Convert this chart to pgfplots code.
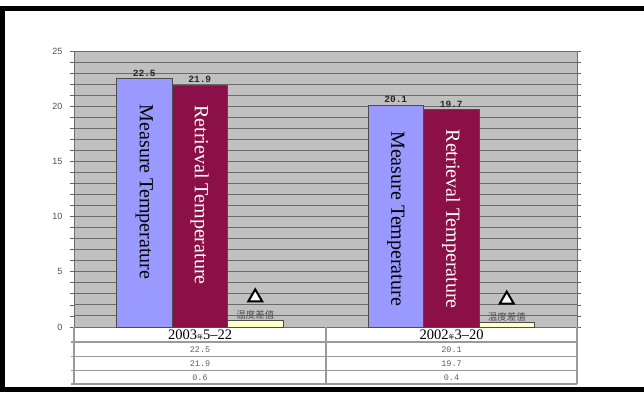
\documentclass[border=0pt]{standalone}
\usepackage{pgfplots}
\pgfplotsset{compat=1.18}
\usepackage{fontspec}
\setmainfont{Liberation Serif}
\newfontfamily\lsans{Liberation Sans}
\newfontfamily\lmono{Liberation Mono}
\newfontfamily\cjk{Noto Sans CJK SC}
\definecolor{measblue}{HTML}{9999FF}
\definecolor{retmaroon}{HTML}{8C1048}
\definecolor{diffyellow}{HTML}{FFFFC8}
\definecolor{plotbg}{HTML}{C0C0C0}
\definecolor{gridc}{HTML}{6A6A6A}
\definecolor{tablec}{HTML}{9A9A9A}
\definecolor{ticklab}{HTML}{505050}
\definecolor{tabtext}{HTML}{606060}
\newcommand{\tri}{\tikz[baseline=0pt]\draw[black, fill=white, line width=2pt, line join=miter] (0pt,0pt) -- (14pt,0pt) -- (7pt,12pt) -- cycle;}
\begin{document}
\begin{tikzpicture}[x=1pt,y=1pt]
\useasboundingbox (0,0) rectangle (644,392);
% frame
\fill[black] (0,381) rectangle (644,386);
\fill[black] (0,0) rectangle (5,386);
\fill[black] (0,0) rectangle (644,5);
\begin{axis}[
  at={(74pt,65pt)}, anchor=south west,
  scale only axis, width=503pt, height=276pt,
  xmin=-0.5, xmax=1.5, ymin=0, ymax=25,
  clip=false,
  ybar, bar width=55.5pt,
  xtick=\empty,
  ytick={0,5,...,25},
  minor ytick={0,1,...,25},
  ymajorgrids, yminorgrids,
  major grid style={draw=gridc, line width=1pt},
  minor grid style={draw=gridc, line width=1pt},
  tick align=outside,
  major tick length=4pt, minor tick length=4pt,
  tick style={draw=gray!80!black, line width=0.8pt},
  minor tick style={draw=gray!80!black, line width=0.8pt},
  axis line style={draw=gray!85!black},
  axis background/.style={fill=plotbg},
  /pgf/number format/assume math mode=true,
  yticklabel style={font=\lsans\fontsize{9}{9}\selectfont, text=ticklab, xshift=-4pt},
]
% Measure Temperature bars with values
\addplot[bar shift=-55.5pt, fill=measblue, draw=black!70, line width=0.6pt,
  nodes near coords,
  every node near coord/.append style={font=\lmono\bfseries\fontsize{9.5}{9.5}\selectfont, text=black!85, anchor=south, inner sep=2pt}]
  coordinates {(0,22.5) (1,20.1)};
% Retrieval Temperature bars with values
\addplot[bar shift=0pt, fill=retmaroon, draw=black!70, line width=0.6pt,
  nodes near coords,
  every node near coord/.append style={font=\lmono\bfseries\fontsize{9.5}{9.5}\selectfont, text=black!85, anchor=south, inner sep=2pt}]
  coordinates {(0,21.9) (1,19.7)};
% difference bars
\addplot[bar shift=55.5pt, fill=diffyellow, draw=black!70, line width=0.6pt,
  nodes near coords={\shortstack{\tri\\[5pt]{\cjk\fontsize{9.5}{10}\selectfont 温度差值}}},
  every node near coord/.append style={text=ticklab, inner sep=1pt, anchor=south}]
  coordinates {(0,0.6) (1,0.4)};
% in-bar texts
\addplot[bar shift=-55.5pt, draw=none, fill=none,
  nodes near coords={Measure Temperature},
  every node near coord/.append style={font=\fontsize{20}{20}\selectfont, text=black, inner sep=0pt, anchor=west, yshift=-26pt, rotate=-90}]
  coordinates {(0,22.5) (1,20.1)};
\addplot[bar shift=0pt, draw=none, fill=none,
  nodes near coords={Retrieval Temperature},
  every node near coord/.append style={font=\fontsize{20}{20}\selectfont, text=white, inner sep=0pt, anchor=west, yshift=-20pt, rotate=-90}]
  coordinates {(0,21.9) (1,19.7)};
\end{axis}
% data table under the chart
\draw[tablec, line width=1.2pt] (71,50) -- (577,50) (71,35.3) -- (577,35.3) (71,21.3) -- (577,21.3) (71,8) -- (577,8);
\draw[tablec, line width=1.2pt] (74,65) -- (74,8) (326,65) -- (326,8) (577,65) -- (577,8);
\node[font=\fontsize{14.5}{14.5}\selectfont, inner sep=0pt] at (200,57.5) {2003{\cjk\fontsize{6}{6}\selectfont 年}5–22};
\node[font=\fontsize{14.5}{14.5}\selectfont, inner sep=0pt] at (451.5,57.5) {2002{\cjk\fontsize{6}{6}\selectfont 年}3–20};
\begin{scope}[every node/.style={font=\lmono\fontsize{8.5}{8.5}\selectfont, text=tabtext, inner sep=0pt}]
\node at (200,42.5) {22.5};
\node at (200,28.3) {21.9};
\node at (200,14.7) {0.6};
\node at (451.5,42.5) {20.1};
\node at (451.5,28.3) {19.7};
\node at (451.5,14.7) {0.4};
\end{scope}
\end{tikzpicture}
\end{document}
